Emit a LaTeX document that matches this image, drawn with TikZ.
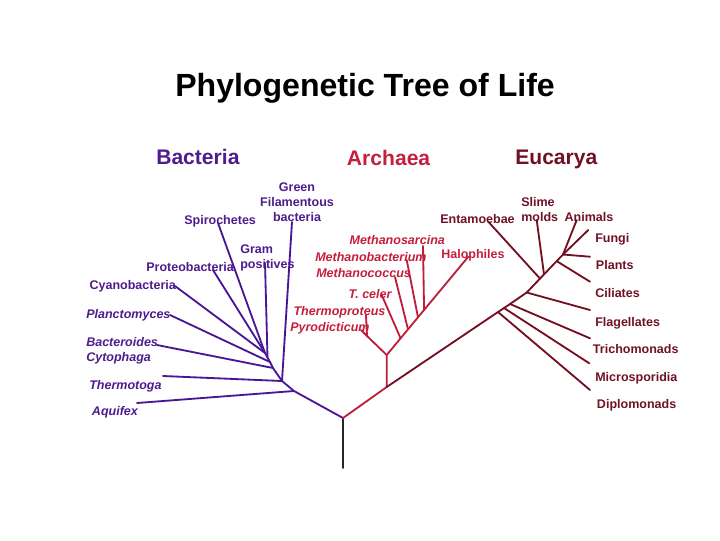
\documentclass[tikz,border=0pt]{standalone}
\usepackage{fontspec}
\setmainfont{Liberation Sans}
\usetikzlibrary{calc}
\definecolor{bac}{RGB}{78,28,140}
\definecolor{bacl}{RGB}{72,22,150}
\definecolor{arc}{RGB}{196,32,62}
\definecolor{arcl}{RGB}{190,30,60}
\definecolor{euc}{RGB}{112,18,38}
\definecolor{eucl}{RGB}{115,15,32}
\begin{document}
\begin{tikzpicture}[x=0.025cm,y=-0.025cm,
  lbl/.style={inner sep=0pt, anchor=mid west, font=\fontsize{8.9}{10.7}\selectfont\bfseries},
  ilbl/.style={lbl, font=\fontsize{8.9}{10.7}\selectfont\bfseries\itshape},
  grp/.style={inner sep=0pt, anchor=base west, font=\fontsize{15}{18}\selectfont\bfseries},
  branch/.style={line width=1.3pt, line cap=round, line join=round}]
\useasboundingbox[fill=white] (0,0) rectangle (720,540);

% title and group headings
\node[anchor=base west, inner sep=0pt, font=\fontsize{22.8}{27}\selectfont\bfseries] (title) at (175,96) {Phylogenetic Tree of Life};
\node[grp, text=bac] (gbac) at (156,164) {Bacteria};
\node[grp, text=arc] (garc) at (346.7,165) {Archaea};
\node[grp, text=euc] (geuc) at (515,164.3) {Eucarya};

% ---------- coordinates ----------
\coordinate (root) at (343,418);
\coordinate (rootb) at (343,468);
% bacteria
\coordinate (b1) at (294,391);
\coordinate (b2) at (282,381);
\coordinate (b3) at (273,368);
\coordinate (b4) at (270,362);
\coordinate (b5) at (265,353);
\coordinate (bg) at ($(b4)!0.5!(b5)$);
\coordinate (lgreen) at (292,222);
\coordinate (lgram) at (265,263);
\coordinate (lspiro) at (218,223);
\coordinate (lproteo) at (213,270);
\coordinate (lcyano) at (175,286);
\coordinate (lplanc) at (170,315);
\coordinate (lbactero) at (157,345);
\coordinate (lthermo) at (163,376);
\coordinate (laquif) at (137,403);
% archaea
\coordinate (a0) at (386.7,387);
\coordinate (a1) at (386.7,355);
\coordinate (a2) at (367,336);
\coordinate (lthermop) at (366,315);
\coordinate (lpyro) at (361,330);
\coordinate (lhalo) at (468.3,256.7);
\coordinate (ac1) at ($(a1)!0.17!(lhalo)$);
\coordinate (ac2) at ($(a1)!0.261!(lhalo)$);
\coordinate (ac3) at ($(a1)!0.3835!(lhalo)$);
\coordinate (ac4) at ($(a1)!0.458!(lhalo)$);
\coordinate (ltceler) at (381.7,295);
\coordinate (lmcoc) at (395,277);
\coordinate (lmbac) at (406.7,260);
\coordinate (lmsar) at (423,246);
% eucarya
\coordinate (e1) at (498,312);
\coordinate (e2) at (504,308);
\coordinate (e3) at (510,304);
\coordinate (e4) at (526.7,292.5);
\coordinate (ec) at (563,254.5);
\coordinate (eent) at ($(e4)!0.366!(ec)$);
\coordinate (esl) at ($(e4)!0.477!(ec)$);
\coordinate (ecil) at ($(e4)!0.826!(ec)$);
\coordinate (lent) at (488.3,221.7);
\coordinate (lslime) at (536.7,220);
\coordinate (lanim) at (576.7,220);
\coordinate (lfungi) at (588.3,230);
\coordinate (lplants) at (590,256.7);
\coordinate (lcil) at (590,281.7);
\coordinate (lflag) at (590,310);
\coordinate (ltrich) at (590,338.3);
\coordinate (lmicro) at (589.3,363.3);
\coordinate (ldiplo) at (590,390);

% ---------- branches ----------
\draw[branch, black!85] (rootb) -- (root);
% bacteria
\draw[branch, bacl] (root) -- (b1) -- (b2) -- (b3) -- (b4) -- (b5);
\draw[branch, bacl] (b1) -- (laquif);
\draw[branch, bacl] (b2) -- (lthermo);
\draw[branch, bacl] (b2) -- (lgreen);
\draw[branch, bacl] (b3) -- (lbactero);
\draw[branch, bacl] (b4) -- (lplanc);
\draw[branch, bacl] (bg) -- (lgram);
\draw[branch, bacl] (b5) -- (lcyano);
\draw[branch, bacl] (b5) -- (lproteo);
\draw[branch, bacl] (b5) -- (lspiro);
% archaea
\draw[branch, arcl] (root) -- (a0) -- (a1) -- (lhalo);
\draw[branch, arcl] (a1) -- (a2) -- (lthermop);
\draw[branch, arcl] (a2) -- (lpyro);
\draw[branch, arcl] (ac1) -- (ltceler);
\draw[branch, arcl] (ac2) -- (lmcoc);
\draw[branch, arcl] (ac3) -- (lmbac);
\draw[branch, arcl] (ac4) -- (lmsar);
% eucarya
\draw[branch, eucl] (a0) -- (e1) -- (e2) -- (e3) -- (e4) -- (ec);
\draw[branch, eucl] (e1) -- (ldiplo);
\draw[branch, eucl] (e2) -- (lmicro);
\draw[branch, eucl] (e3) -- (ltrich);
\draw[branch, eucl] (e4) -- (lflag);
\draw[branch, eucl] (eent) -- (lent);
\draw[branch, eucl] (esl) -- (lslime);
\draw[branch, eucl] (ecil) -- (lcil);
\draw[branch, eucl] (ec) -- (lanim);
\draw[branch, eucl] (ec) -- (lfungi);
\draw[branch, eucl] (ec) -- (lplants);

% ---------- labels ----------
% bacteria
\node[lbl, anchor=center, align=center, text=bac] (tgreen) at (297,202.3) {Green\\Filamentous\\bacteria};
\node[lbl, text=bac] (tspiro) at (184,221) {Spirochetes};
\node[lbl, align=left, text=bac, anchor=west] (tgram) at (240,258) {Gram\\positives};
\node[lbl, text=bac] (tproteo) at (146,267.7) {Proteobacteria};
\node[lbl, text=bac] (tcyano) at (89.3,286) {Cyanobacteria};
\node[ilbl, text=bac] (tplanc) at (86,315) {Planctomyces};
\node[ilbl, align=left, text=bac, anchor=west] (tbactero) at (86,351.2) {Bacteroides\\Cytophaga};
\node[ilbl, text=bac] (tthermo) at (89,386) {Thermotoga};
\node[ilbl, text=bac] (taquif) at (91.7,411.7) {Aquifex};
% archaea
\node[ilbl, text=arc] (tmsar) at (349.3,240.7) {Methanosarcina};
\node[ilbl, text=arc] (tmbac) at (315,257.3) {Methanobacterium};
\node[ilbl, text=arc] (tmcoc) at (316,274) {Methanococcus};
\node[ilbl, text=arc] (ttceler) at (348.3,294.3) {T. celer};
\node[ilbl, text=arc] (tthermop) at (293.3,311.7) {Thermoproteus};
\node[ilbl, text=arc] (tpyro) at (290,327.7) {Pyrodicticum};
\node[lbl, text=arc] (thalo) at (441,254.3) {Halophiles};
% eucarya
\node[lbl, align=left, text=euc, anchor=west] (tslime) at (521,209.5) {Slime\\molds};
\node[lbl, text=euc] (tent) at (440,219.3) {Entamoebae};
\node[lbl, text=euc] (tanim) at (564.3,217.3) {Animals};
\node[lbl, text=euc] (tfungi) at (595,239) {Fungi};
\node[lbl, text=euc] (tplants) at (595.7,266) {Plants};
\node[lbl, text=euc] (tcil) at (595,294) {Ciliates};
\node[lbl, text=euc] (tflag) at (595,322.7) {Flagellates};
\node[lbl, text=euc] (ttrich) at (592.7,349.3) {Trichomonads};
\node[lbl, text=euc] (tmicro) at (595,377.7) {Microsporidia};
\node[lbl, text=euc] (tdiplo) at (596.7,405) {Diplomonads};
\end{tikzpicture}
\end{document}
